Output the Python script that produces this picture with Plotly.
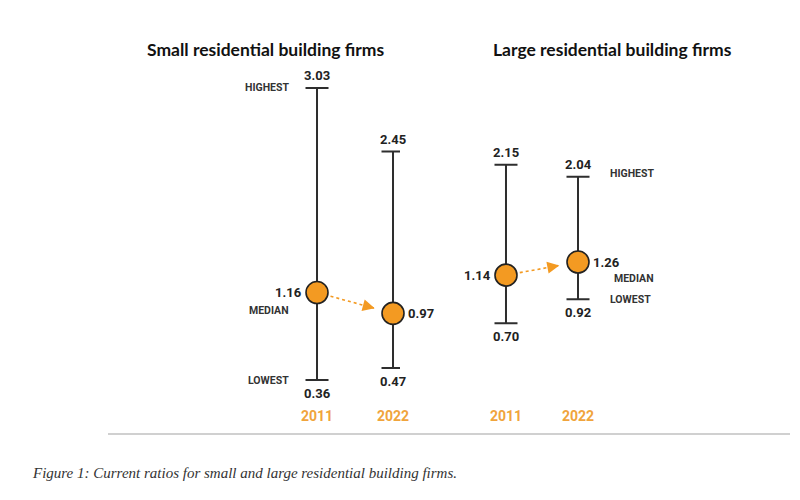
import math
import plotly.graph_objects as go

# ---------------- data ----------------
years = ["2011", "2022"]
panel_titles = ["Small residential building firms", "Large residential building firms"]
small_high = [3.03, 2.45]
small_median = [1.16, 0.97]
small_low = [0.36, 0.47]
large_high = [2.15, 2.04]
large_median = [1.14, 1.26]
large_low = [0.70, 0.92]
role_labels = ["HIGHEST", "MEDIAN", "LOWEST"]
caption = "Figure 1: Current ratios for small and large residential building firms."

# ---------------- style ----------------
W, H = 800, 500
M = dict(l=0, r=0, t=0, b=100)
PW, PH = W - M["l"] - M["r"], H - M["t"] - M["b"]
ORANGE = "#F39A22"
YEAR_ORANGE = "#F0A43C"
INK = "#222222"
WHISKER = "#2E2E2E"
NUM_FONT = dict(family="Roboto", size=13, color=INK, weight="bold")
ROLE_FONT = dict(family="Roboto", size=10.5, color="#333333", weight="bold")

panels = [
    dict(high=small_high, med=small_median, low=small_low, xa="x", ya="y",
         xdom=[0, 0.5], xrange=[-4.171, 1.092], yrange=[0.178, 3.834],
         title_x=0.332, role_side="left"),
    dict(high=large_high, med=large_median, low=large_low, xa="x2", ya="y2",
         xdom=[0.5, 1.0], xrange=[-1.472, 4.083], yrange=[-0.001, 3.655],
         title_x=0.766, role_side="right"),
]

fig = go.Figure()
annotations = []
xs = list(range(len(years)))

for p in panels:
    pxx = PW * (p["xdom"][1] - p["xdom"][0]) / (p["xrange"][1] - p["xrange"][0])
    pxy = PH / (p["yrange"][1] - p["yrange"][0])
    m0, m1 = p["med"]
    # dotted connector between medians, shortened at both ends
    dxp, dyp = (xs[1] - xs[0]) * pxx, (m1 - m0) * pxy
    L = math.hypot(dxp, dyp)
    fs, fe = 14 / L, 1 - 19 / L
    lx = [xs[0] + fs * (xs[1] - xs[0]), xs[0] + fe * (xs[1] - xs[0])]
    ly = [m0 + fs * (m1 - m0), m0 + fe * (m1 - m0)]
    fig.add_trace(go.Scatter(x=lx, y=ly, mode="lines", xaxis=p["xa"], yaxis=p["ya"],
                             line=dict(color=ORANGE, width=1.6, dash="dot"),
                             cliponaxis=False, hoverinfo="skip", showlegend=False))
    # arrowhead
    ux, uy = dxp / L, dyp / L
    annotations.append(dict(x=lx[1], y=ly[1], xref=p["xa"], yref=p["ya"],
                            ax=-ux * 5, ay=uy * 5, showarrow=True, arrowhead=2,
                            arrowsize=1.5, arrowwidth=1.6, arrowcolor=ORANGE, text=""))
    # whiskers + median markers
    fig.add_trace(go.Scatter(
        x=xs, y=p["med"], mode="markers", xaxis=p["xa"], yaxis=p["ya"],
        marker=dict(size=22, color=ORANGE, line=dict(color=INK, width=1.6)),
        error_y=dict(type="data", symmetric=False,
                     array=[h - m for h, m in zip(p["high"], p["med"])],
                     arrayminus=[m - l for m, l in zip(p["med"], p["low"])],
                     color=WHISKER, thickness=2, width=11.5),
        cliponaxis=False, hoverinfo="skip", showlegend=False))
    # value labels
    for i in xs:
        annotations.append(dict(x=i, y=p["high"][i], xref=p["xa"], yref=p["ya"],
                                text=f"{p['high'][i]:.2f}", showarrow=False,
                                yshift=12, font=NUM_FONT))
        annotations.append(dict(x=i, y=p["low"][i], xref=p["xa"], yref=p["ya"],
                                text=f"{p['low'][i]:.2f}", showarrow=False,
                                yshift=-13, font=NUM_FONT))
        left = (i == 0)
        annotations.append(dict(x=i, y=p["med"][i], xref=p["xa"], yref=p["ya"],
                                text=f"{p['med'][i]:.2f}", showarrow=False,
                                xanchor="right" if left else "left",
                                xshift=-13 if left else 13, font=NUM_FONT))
    # role labels
    if p["role_side"] == "left":
        i, anc, sx = 0, "right", -26
        shifts = [0, -18, 0]
    else:
        i, anc, sx = 1, "left", 30
        shifts = [3, -16, 0]
    vals = [p["high"][i], p["med"][i], p["low"][i]]
    for lab, v, ys in zip(role_labels, vals, shifts):
        extra = 4 if (lab == "MEDIAN" and anc == "left") else 0
        annotations.append(dict(x=i, y=v, xref=p["xa"], yref=p["ya"], text=lab,
                                showarrow=False, xanchor=anc, xshift=sx + extra,
                                yshift=ys, font=ROLE_FONT))

# panel titles
for p, t in zip(panels, panel_titles):
    annotations.append(dict(x=p["title_x"], y=0.8775, xref="paper", yref="paper",
                            xanchor="center", yanchor="middle",
                            text=f"<b>{t}</b>", showarrow=False,
                            font=dict(family="Lato", size=17.5, color="#111111")))

# caption
annotations.append(dict(x=0.0375, y=-0.1825, xref="paper", yref="paper",
                        xanchor="left", yanchor="middle", showarrow=False,
                        text=f"<i>{caption}</i>",
                        font=dict(family="Liberation Serif", size=15, color="#333333")))

axis_common = dict(showgrid=False, zeroline=False, showline=False, ticks="",
                   fixedrange=True)
xaxis_common = dict(axis_common, tickvals=xs, ticktext=years, ticklabelstandoff=6,
                    tickfont=dict(family="Roboto", size=14, color=YEAR_ORANGE, weight="bold"))

fig.update_layout(
    width=W, height=H, margin=dict(M, autoexpand=False),
    paper_bgcolor="white", plot_bgcolor="white",
    xaxis=dict(xaxis_common, domain=panels[0]["xdom"], range=panels[0]["xrange"], anchor="y"),
    xaxis2=dict(xaxis_common, domain=panels[1]["xdom"], range=panels[1]["xrange"], anchor="y2"),
    yaxis=dict(axis_common, range=panels[0]["yrange"], showticklabels=False, anchor="x"),
    yaxis2=dict(axis_common, range=panels[1]["yrange"], showticklabels=False, anchor="x2"),
    annotations=annotations,
    shapes=[dict(type="line", xref="paper", yref="paper", x0=0.135, x1=0.9875,
                 y0=-0.085, y1=-0.085, line=dict(color="#D0D0D0", width=2))],
)

fig.write_html("out.html")
